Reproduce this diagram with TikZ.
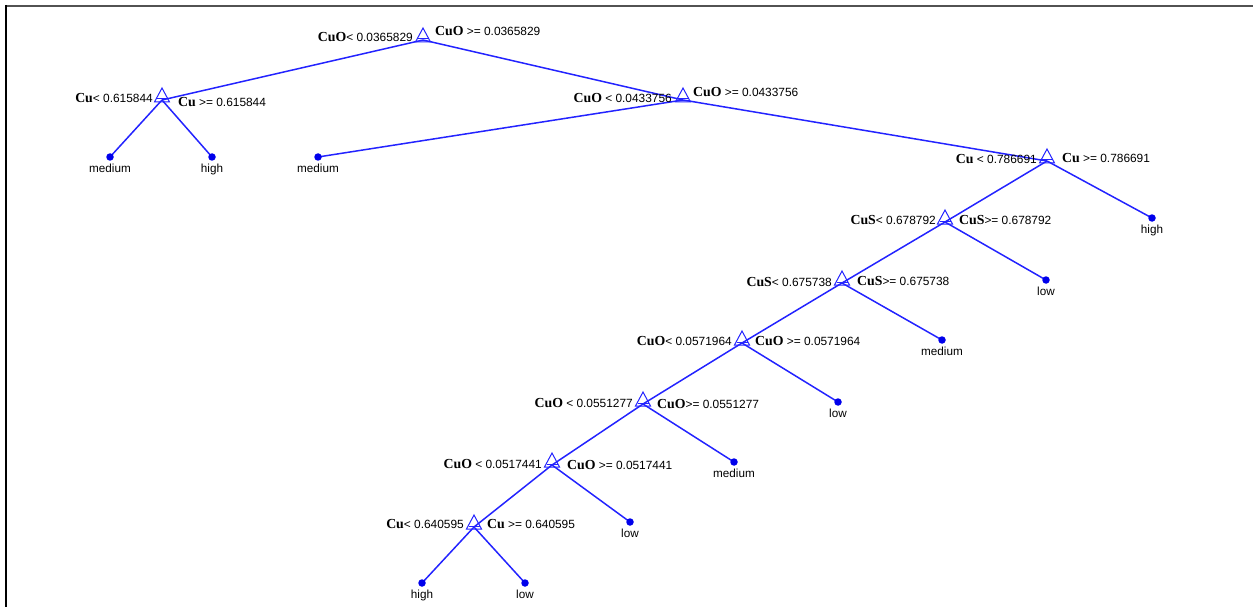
\documentclass[tikz,border=0pt]{standalone}
\usepackage{fontspec}
\setmainfont{Liberation Sans}
\newfontfamily\varfont{Liberation Serif}
\newcommand\vn[1]{{\fontsize{13.8}{14}\varfont\bfseries #1}}
\definecolor{treeblue}{RGB}{35,35,255}
\definecolor{dotblue}{RGB}{0,0,235}
\begin{document}
\begin{tikzpicture}[x=1pt,y=-1pt,
  edge/.style={treeblue,line width=1.5pt},
  lab/.style={inner sep=0pt,font=\fontsize{11.9}{12}\selectfont},
  leafdot/.style={circle,fill=dotblue,inner sep=0pt,minimum size=7.5pt},
  leaflab/.style={inner sep=0pt,anchor=base,font=\fontsize{11.7}{12}\selectfont},
  tri/.pic={\draw[treeblue,line width=1pt,line join=miter] (0,-12) -- (-7.5,2) -- (7.5,2) -- cycle;
            \draw[treeblue,line width=1pt] (-5.5,-1) -- (5.5,-1);}
]
\useasboundingbox (0,0) rectangle (1253,607);
\draw[line width=2pt,black!68] (5,6) -- (1253,6);
\draw[line width=2pt,black] (6,5) -- (6,607);

% split points
\coordinate (r)  at (423,40);
\coordinate (a)  at (162,100);
\coordinate (b)  at (683,100);
\coordinate (c)  at (1047,161);
\coordinate (d)  at (945,222);
\coordinate (e)  at (842,283);
\coordinate (f)  at (742,343);
\coordinate (g)  at (643,404);
\coordinate (h)  at (552,465);
\coordinate (k)  at (474,527);
% leaves
\coordinate (l1)  at (110,157);
\coordinate (l2)  at (212,157);
\coordinate (l3)  at (318,157);
\coordinate (l4)  at (1152,218);
\coordinate (l5)  at (1046,280);
\coordinate (l6)  at (942,340);
\coordinate (l7)  at (838,402);
\coordinate (l8)  at (734,462);
\coordinate (l9)  at (630,522);
\coordinate (l10) at (422,583);
\coordinate (l11) at (525,583);

% edges
\draw[edge] (r) -- (a);
\draw[edge] (r) -- (b);
\draw[edge] (a) -- (l1);
\draw[edge] (a) -- (l2);
\draw[edge] (b) -- (l3);
\draw[edge] (b) -- (c);
\draw[edge] (c) -- (d);
\draw[edge] (c) -- (l4);
\draw[edge] (d) -- (e);
\draw[edge] (d) -- (l5);
\draw[edge] (e) -- (f);
\draw[edge] (e) -- (l6);
\draw[edge] (f) -- (g);
\draw[edge] (f) -- (l7);
\draw[edge] (g) -- (h);
\draw[edge] (g) -- (l8);
\draw[edge] (h) -- (k);
\draw[edge] (h) -- (l9);
\draw[edge] (k) -- (l10);
\draw[edge] (k) -- (l11);

% split markers
\foreach \n in {r,a,b,c,d,e,f,g,h,k} {\pic at (\n) {tri};}

% leaf dots and labels
\foreach \n/\t in {l1/medium,l2/high,l3/medium,l4/high,l5/low,l6/medium,l7/low,l8/medium,l9/low,l10/high,l11/low} {
  \node[leafdot] (\n d) at (\n) {};
  \node[leaflab] (\n t) at ([yshift=-15pt]\n) {\t};
}

% split labels
\node[lab,anchor=base east]  (rl) at (413,42)  {\vn{CuO}< 0.0365829};
\node[lab,anchor=base west]  (rr) at (435,36)  {\vn{CuO} >= 0.0365829};
\node[lab,anchor=base east]  (al) at (153,103) {\vn{Cu}< 0.615844};
\node[lab,anchor=base west]  (ar) at (178,107) {\vn{Cu} >= 0.615844};
\node[lab,anchor=base east]  (bl) at (672,103) {\vn{CuO} < 0.0433756};
\node[lab,anchor=base west]  (br) at (693,97)  {\vn{CuO} >= 0.0433756};
\node[lab,anchor=base east]  (cl) at (1037,164) {\vn{Cu} < 0.786691};
\node[lab,anchor=base west]  (cr) at (1062,162) {\vn{Cu} >= 0.786691};
\node[lab,anchor=base east]  (dl) at (936,224) {\vn{CuS}< 0.678792};
\node[lab,anchor=base west]  (dr) at (959,224) {\vn{CuS}>= 0.678792};
\node[lab,anchor=base east]  (el) at (832,286) {\vn{CuS}< 0.675738};
\node[lab,anchor=base west]  (er) at (857,285) {\vn{CuS}>= 0.675738};
\node[lab,anchor=base east]  (fl) at (732,345) {\vn{CuO}< 0.0571964};
\node[lab,anchor=base west]  (fr) at (755,345) {\vn{CuO} >= 0.0571964};
\node[lab,anchor=base east]  (gl) at (633,407) {\vn{CuO} < 0.0551277};
\node[lab,anchor=base west]  (gr) at (657,408) {\vn{CuO}>= 0.0551277};
\node[lab,anchor=base east]  (hl) at (542,468) {\vn{CuO} < 0.0517441};
\node[lab,anchor=base west]  (hr) at (567,469) {\vn{CuO} >= 0.0517441};
\node[lab,anchor=base east]  (kl) at (464,528) {\vn{Cu}< 0.640595};
\node[lab,anchor=base west]  (kr) at (487,528) {\vn{Cu} >= 0.640595};
\end{tikzpicture}
\end{document}
